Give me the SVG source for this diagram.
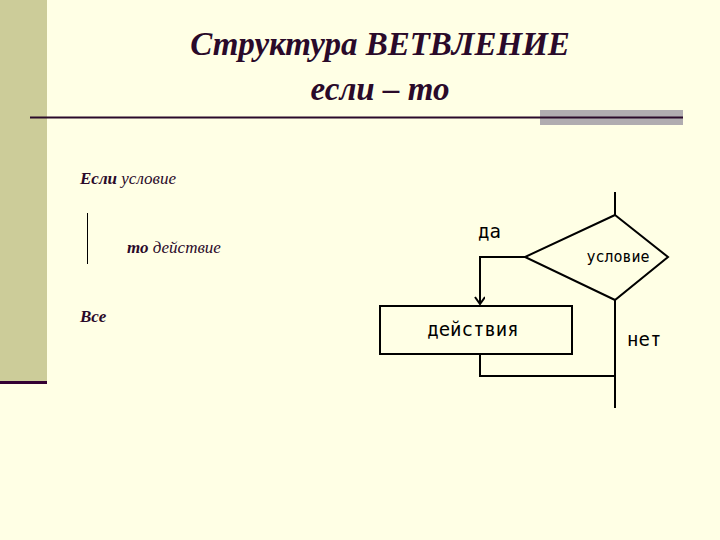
<svg xmlns="http://www.w3.org/2000/svg" width="720" height="540" viewBox="0 0 720 540">
<style>
.t{font-family:"Liberation Serif",serif;font-style:italic;fill:#2a0a2a}
.m{font-family:"DejaVu Sans Mono","Liberation Mono",monospace;fill:#000}
.ln{stroke:#000;stroke-width:2;fill:none}
</style>
<defs><marker id="a" markerWidth="12" markerHeight="12" refX="9" refY="5" orient="auto" markerUnits="userSpaceOnUse"><path d="M2,0 L9,5 L2,10" fill="none" stroke="#000" stroke-width="2"/></marker></defs>
<rect width="720" height="540" fill="#ffffe5"/>
<rect x="0" y="0" width="47" height="383" fill="#cccc99"/>
<rect x="0" y="381" width="47" height="3" fill="#330033"/>
<rect x="540" y="110" width="143" height="15" fill="#b0acb0"/>
<line x1="30" y1="117.5" x2="683" y2="117.5" stroke="#2a0a2a" stroke-width="2"/>
<text class="t" x="380" y="55" text-anchor="middle" font-size="33" font-weight="bold">Структура ВЕТВЛЕНИЕ</text>
<text class="t" x="380" y="100" text-anchor="middle" font-size="33" font-weight="bold">если – то</text>
<text class="t" x="80" y="184" font-size="17"><tspan font-weight="bold">Если</tspan> условие</text>
<line x1="87.5" y1="213" x2="87.5" y2="264" stroke="#000" stroke-width="1"/>
<text class="t" x="127" y="253" font-size="17"><tspan font-weight="bold">то</tspan> действие</text>
<text class="t" x="80" y="322" font-size="17" font-weight="bold">Все</text>
<g id="connectors">
<line class="ln" x1="615" y1="192" x2="615" y2="215" stroke-width="3"/>
<polyline class="ln" points="525,257 480,257 480,304" marker-end="url(#a)"/>
<polyline class="ln" points="480,354 480,376 615,376"/>
<line class="ln" x1="615" y1="300" x2="615" y2="408"/>
</g>
<g id="cond"><polygon points="615,215 668,257 615,300 525,257" fill="none" stroke="#000" stroke-width="2"/>
<text class="m" x="618" y="262" text-anchor="middle" font-size="15">условие</text></g>
<g id="act"><rect x="380" y="306" width="192" height="48" fill="none" stroke="#000" stroke-width="2"/>
<text class="m" x="473" y="336" text-anchor="middle" font-size="19">действия</text></g>
<text class="m" x="478" y="238" font-size="19">да</text>
<text class="m" x="627" y="346" font-size="19">нет</text>
</svg>
